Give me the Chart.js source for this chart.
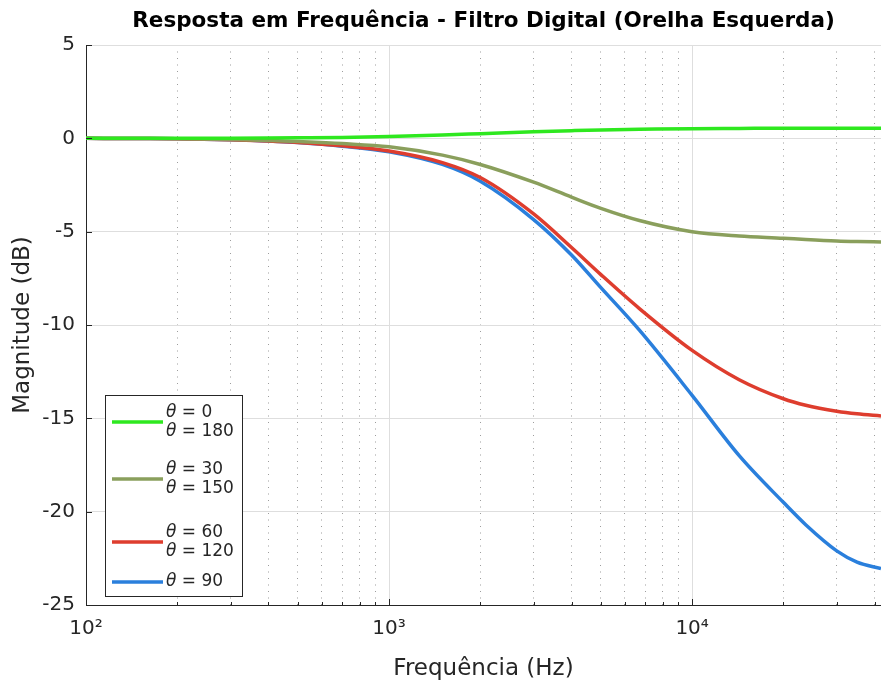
<!DOCTYPE html>
<html>
<head>
<meta charset="utf-8">
<script src="https://cdn.jsdelivr.net/npm/chart.js@4.4.1/dist/chart.umd.min.js"></script>
<style>
  html, body { margin: 0; padding: 0; background: #ffffff; }
  #wrap { width: 881px; height: 689px; position: relative; }
</style>
</head>
<body>
<div id="wrap"><canvas id="c" width="881" height="689"></canvas></div>
<script>
// ---- data ----
const freqs    = [100, 150, 200, 300, 400, 500, 700, 1000, 1500, 2000, 3000, 4000, 5000, 6700, 10000, 14300, 20000, 23700, 30000, 35000, 42000];
const theta0   = [0, 0, 0.005, 0.01, 0.02, 0.03, 0.05, 0.1, 0.18, 0.25, 0.35, 0.41, 0.45, 0.48, 0.52, 0.53, 0.54, 0.54, 0.54, 0.54, 0.54];
const theta30  = [0, -0.01, -0.02, -0.06, -0.11, -0.17, -0.28, -0.45, -0.9, -1.4, -2.35, -3.15, -3.75, -4.4, -5.0, -5.23, -5.35, -5.42, -5.5, -5.53, -5.55];
const theta60  = [0, -0.01, -0.02, -0.07, -0.14, -0.22, -0.4, -0.68, -1.3, -2.1, -4.05, -5.85, -7.3, -9.12, -11.36, -12.93, -13.95, -14.3, -14.62, -14.76, -14.87];
const theta90  = [0, -0.01, -0.02, -0.07, -0.14, -0.23, -0.42, -0.72, -1.4, -2.3, -4.35, -6.25, -8.0, -10.28, -13.77, -17.0, -19.5, -20.7, -22.1, -22.7, -23.05];
const seriesLabels = [['θ = 0', 'θ = 180'], ['θ = 30', 'θ = 150'], ['θ = 60', 'θ = 120'], ['θ = 90']];
const seriesColors = ['#2ee81f', '#8a9f5c', '#de3d2e', '#2a7fdc'];
const xTickValues = [100,200,300,400,500,600,700,800,900,1000,2000,3000,4000,5000,6000,7000,8000,9000,10000,20000,30000,40000];
const yTickValues = [5, 0, -5, -10, -15, -20, -25];
const titleText = 'Resposta em Frequência - Filtro Digital (Orelha Esquerda)';
const xTitle = 'Frequência (Hz)';
const yTitle = 'Magnitude (dB)';

const FONT = "'DejaVu Sans', sans-serif";
const AXIS_COLOR = '#262626';
const isMajorX = v => Math.abs(Math.log10(v) - Math.round(Math.log10(v))) < 1e-9;
const supers = {'0':'⁰','1':'¹','2':'²','3':'³','4':'⁴','5':'⁵'};

function toPoints(vals) { return freqs.map((f, i) => ({ x: f, y: vals[i] })); }

const allSeries = [theta0, theta30, theta60, theta90];
const datasets = allSeries.map((vals, i) => ({
  label: seriesLabels[i].join(' / '),
  data: toPoints(vals),
  borderColor: seriesColors[i],
  backgroundColor: seriesColors[i],
  borderWidth: 3.5,
  pointRadius: 0,
  cubicInterpolationMode: 'monotone',
  fill: false,
  order: i
}));

const innerTicks = {
  id: 'innerTicks',
  afterDraw(chart) {
    const ctx = chart.ctx, a = chart.chartArea;
    const xs = chart.scales.x, ys = chart.scales.y;
    ctx.save();
    ctx.strokeStyle = AXIS_COLOR;
    ctx.lineWidth = 1;
    ctx.beginPath();
    yTickValues.forEach(v => {
      const y = Math.round(ys.getPixelForValue(v)) + 0.5;
      ctx.moveTo(a.left, y); ctx.lineTo(a.left + 6, y);
    });
    xTickValues.forEach(v => {
      const x = Math.round(xs.getPixelForValue(v)) + 0.5;
      const len = isMajorX(v) ? 6 : 3;
      ctx.moveTo(x, a.bottom); ctx.lineTo(x, a.bottom - len);
    });
    ctx.stroke();
    ctx.restore();
  }
};

const boxLegend = {
  id: 'boxLegend',
  afterDraw(chart) {
    const ctx = chart.ctx;
    const bx = 105.5, by = 395.5, bw = 137, bh = 201;
    ctx.save();
    ctx.fillStyle = '#ffffff';
    ctx.fillRect(bx, by, bw, bh);
    ctx.strokeStyle = AXIS_COLOR;
    ctx.lineWidth = 1;
    ctx.strokeRect(bx, by, bw, bh);
    const lineYs = [422, 479, 542, 582];
    const lineH = 18.5;
    lineYs.forEach((ly, i) => {
      ctx.strokeStyle = seriesColors[i];
      ctx.lineWidth = 3.5;
      ctx.beginPath();
      ctx.moveTo(112, ly); ctx.lineTo(163, ly);
      ctx.stroke();
      const lines = seriesLabels[i];
      const startY = ly - (lines.length - 1) * lineH / 2;
      lines.forEach((t, k) => {
        const ty = startY + k * lineH;
        ctx.textBaseline = 'middle';
        ctx.fillStyle = AXIS_COLOR;
        ctx.font = "italic 17px " + FONT;
        ctx.fillText('θ', 166, ty);
        const w = ctx.measureText('θ').width;
        ctx.font = "17px " + FONT;
        ctx.fillText(t.slice(1), 166 + w, ty);
      });
    });
    ctx.restore();
  }
};

new Chart(document.getElementById('c'), {
  type: 'line',
  data: { datasets },
  options: {
    responsive: false,
    animation: false,
    layout: { padding: { left: 0, right: 0, top: 0, bottom: 0 } },
    plugins: {
      legend: { display: false },
      tooltip: { enabled: false },
      title: {
        display: true,
        text: titleText,
        fullSize: false,
        color: '#000000',
        font: { family: FONT, size: 21.5, weight: 'bold' },
        padding: { top: 9, bottom: 10.2 }
      }
    },
    scales: {
      x: {
        type: 'logarithmic',
        min: 100,
        max: 42000,
        afterBuildTicks: s => { s.ticks = xTickValues.map(v => ({ value: v })); },
        afterFit: s => { s.height = 84; s.paddingRight = 0; s.paddingLeft = 0; },
        ticks: {
          autoSkip: false,
          maxRotation: 0,
          color: AXIS_COLOR,
          font: { family: FONT, size: 20 },
          padding: 12,
          callback: v => {
            if (!isMajorX(v)) return '';
            const e = String(Math.round(Math.log10(v)));
            return '10' + e.split('').map(c => supers[c]).join('');
          }
        },
        grid: {
          drawTicks: false,
          lineWidth: 1,
          color: c => (c.tick && isMajorX(c.tick.value)) ? '#dedede' : 'rgba(60,60,60,0.5)'
        },
        border: {
          display: true,
          color: AXIS_COLOR,
          width: 1,
          dash: c => (c.tick && !isMajorX(c.tick.value)) ? [1, 5.5] : []
        },
        title: {
          display: true,
          text: xTitle,
          color: AXIS_COLOR,
          font: { family: FONT, size: 23 },
          padding: { top: 0, bottom: 6 }
        }
      },
      y: {
        type: 'linear',
        min: -25,
        max: 5,
        afterBuildTicks: s => { s.ticks = yTickValues.slice().reverse().map(v => ({ value: v })); },
        afterFit: s => { s.width = 86; },
        ticks: {
          color: AXIS_COLOR,
          font: { family: FONT, size: 20 },
          padding: 11,
          callback: v => String(v)
        },
        grid: {
          drawTicks: false,
          lineWidth: 1,
          color: '#dedede'
        },
        border: { display: true, color: AXIS_COLOR, width: 1 },
        title: {
          display: true,
          text: yTitle,
          color: AXIS_COLOR,
          font: { family: FONT, size: 23 },
          padding: { top: 9, bottom: 0 }
        }
      }
    }
  },
  plugins: [innerTicks, boxLegend]
});
</script>
</body>
</html>
